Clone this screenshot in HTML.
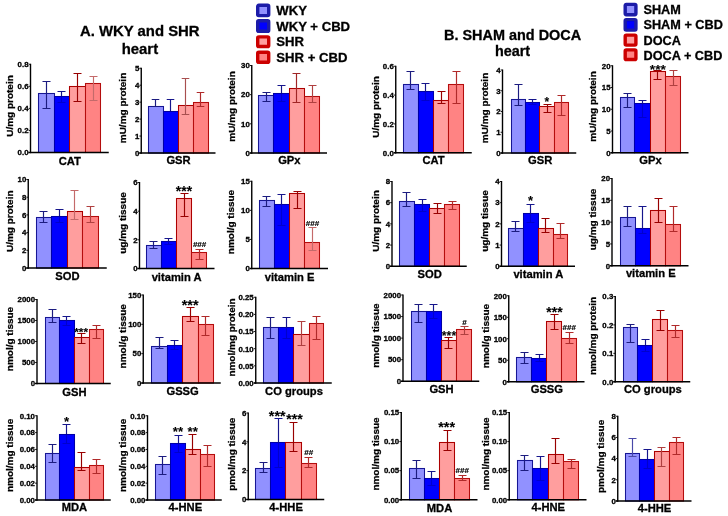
<!DOCTYPE html>
<html><head><meta charset="utf-8"><title>Figure</title>
<style>html,body{margin:0;padding:0;background:#fff}svg{display:block}text{font-family:"Liberation Sans",sans-serif;font-weight:bold;fill:#000;stroke:#000;stroke-width:0.3px}text.n{font-weight:bold;stroke-width:0.2px}text.a{font-weight:bold;stroke-width:0.1px;letter-spacing:0.1px}</style></head>
<body><svg width="728" height="516" viewBox="0 0 728 516">
<defs><filter id="s" x="0" y="0" width="728" height="516" filterUnits="userSpaceOnUse"><feGaussianBlur stdDeviation="0.32"/></filter></defs>
<rect width="728" height="516" fill="#fff"/>
<g filter="url(#s)">
<g><rect x="38.5" y="93.5" width="16" height="59" fill="#9191ff" stroke="#161694" stroke-width="1.05"/><rect x="54.5" y="96.5" width="15" height="56" fill="#0000ff" stroke="#0000a8" stroke-width="1.05"/><rect x="69.5" y="86.5" width="16" height="66" fill="#ff9e9e" stroke="#ac0606" stroke-width="1.05"/><rect x="85.5" y="83.5" width="15" height="69" fill="#ff8383" stroke="#b40808" stroke-width="1.05"/><path d="M46.5 81.5V108.5M42.5 81.5H50.5M42.5 108.5H50.5" stroke="#1c1c80" stroke-width="1.15" fill="none"/><path d="M61.5 91.5V96M57.5 91.5H65.5" stroke="#14148c" stroke-width="1.15" fill="none"/><path d="M61.5 96V102.5M57.5 102.5H65.5" stroke="#000090" stroke-width="1.15" fill="none" opacity="0.45"/><path d="M77.5 73.5V101.5M73.5 73.5H81.5M73.5 101.5H81.5" stroke="#980000" stroke-width="1.15" fill="none"/><path d="M93.5 76.5V100.5M89.5 76.5H97.5M89.5 100.5H97.5" stroke="#c46a6a" stroke-width="1.15" fill="none"/><path d="M30.5 63.75V153.2" stroke="#000" stroke-width="1.4" fill="none"/><path d="M28.5 152.5H108.75" stroke="#000" stroke-width="1.45" fill="none"/><text x="28.5" y="67.05" font-size="7.85" text-anchor="end" class="b">0.8</text><text x="28.5" y="89.11" font-size="7.85" text-anchor="end" class="b">0.6</text><text x="28.5" y="111.17" font-size="7.85" text-anchor="end" class="b">0.4</text><text x="28.5" y="133.24" font-size="7.85" text-anchor="end" class="b">0.2</text><text x="28.5" y="155.3" font-size="7.85" text-anchor="end" class="b">0.0</text><path d="M28.6 64.25H30.5M28.6 86.31H30.5M28.6 108.38H30.5M28.6 130.44H30.5M28.6 152.5H30.5" stroke="#000" stroke-width="0.9" fill="none"/><text x="69.75" y="164.5" font-size="11.2" text-anchor="middle" class="b">CAT</text><text transform="translate(13 106) rotate(-90) scale(1 0.92)" font-size="10" text-anchor="middle" class="b">U/mg protein</text></g>
<g><rect x="148.5" y="106.5" width="15" height="46.5" fill="#9191ff" stroke="#161694" stroke-width="1.05"/><rect x="163.5" y="111.5" width="15" height="41.5" fill="#0000ff" stroke="#0000a8" stroke-width="1.05"/><rect x="178.5" y="105.5" width="15" height="47.5" fill="#ff9e9e" stroke="#ac0606" stroke-width="1.05"/><rect x="193.5" y="102.5" width="15" height="50.5" fill="#ff8383" stroke="#b40808" stroke-width="1.05"/><path d="M155.5 99.5V106.5M151.7 99.5H159.3M151.7 106.5H159.3" stroke="#1c1c80" stroke-width="1.15" fill="none"/><path d="M170.5 99.5V111.25M166.7 99.5H174.3" stroke="#14148c" stroke-width="1.15" fill="none"/><path d="M170.5 111.25V111.5M166.7 111.5H174.3" stroke="#000090" stroke-width="1.15" fill="none" opacity="0.45"/><path d="M185.5 78.5V114.5M181.7 78.5H189.3M181.7 114.5H189.3" stroke="#a85050" stroke-width="1.15" fill="none"/><path d="M200.5 92.5V106.5M196.7 92.5H204.3M196.7 106.5H204.3" stroke="#b02a2a" stroke-width="1.15" fill="none"/><path d="M141.25 67.75V153.7" stroke="#000" stroke-width="1.4" fill="none"/><path d="M139.25 153H215.5" stroke="#000" stroke-width="1.45" fill="none"/><text x="139.25" y="71.05" font-size="7.85" text-anchor="end" class="b">5</text><text x="139.25" y="88" font-size="7.85" text-anchor="end" class="b">4</text><text x="139.25" y="104.95" font-size="7.85" text-anchor="end" class="b">3</text><text x="139.25" y="121.9" font-size="7.85" text-anchor="end" class="b">2</text><text x="139.25" y="138.85" font-size="7.85" text-anchor="end" class="b">1</text><text x="139.25" y="155.8" font-size="7.85" text-anchor="end" class="b">0</text><path d="M139.35 68.25H141.25M139.35 85.2H141.25M139.35 102.15H141.25M139.35 119.1H141.25M139.35 136.05H141.25M139.35 153H141.25" stroke="#000" stroke-width="0.9" fill="none"/><text x="178.5" y="164.25" font-size="11.2" text-anchor="middle" class="b">GSR</text><text transform="translate(125.5 108) rotate(-90) scale(1 0.92)" font-size="10" text-anchor="middle" class="b">mU/mg protein</text></g>
<g><rect x="258.5" y="95.5" width="15" height="57.5" fill="#9191ff" stroke="#161694" stroke-width="1.05"/><rect x="273.5" y="93.5" width="16" height="59.5" fill="#0000ff" stroke="#0000a8" stroke-width="1.05"/><rect x="289.5" y="88.5" width="15" height="64.5" fill="#ff9e9e" stroke="#ac0606" stroke-width="1.05"/><rect x="304.5" y="96.5" width="15" height="56.5" fill="#ff8383" stroke="#b40808" stroke-width="1.05"/><path d="M266.5 92.5V101.5M262.5 92.5H270.5M262.5 101.5H270.5" stroke="#1c1c80" stroke-width="1.15" fill="none"/><path d="M281.5 85.5V93.25M277.5 85.5H285.5" stroke="#14148c" stroke-width="1.15" fill="none"/><path d="M281.5 93.25V101.5M277.5 101.5H285.5" stroke="#000090" stroke-width="1.15" fill="none" opacity="0.45"/><path d="M296.5 73.5V102.5M292.5 73.5H300.5M292.5 102.5H300.5" stroke="#a02828" stroke-width="1.15" fill="none"/><path d="M312.5 85.5V102.5M308.5 85.5H316.5M308.5 102.5H316.5" stroke="#b04040" stroke-width="1.15" fill="none"/><path d="M251.75 65V153.7" stroke="#000" stroke-width="1.4" fill="none"/><path d="M249.75 153H327" stroke="#000" stroke-width="1.45" fill="none"/><text x="249.75" y="68.3" font-size="7.85" text-anchor="end" class="b">30</text><text x="249.75" y="97.47" font-size="7.85" text-anchor="end" class="b">20</text><text x="249.75" y="126.63" font-size="7.85" text-anchor="end" class="b">10</text><text x="249.75" y="155.8" font-size="7.85" text-anchor="end" class="b">0</text><path d="M249.85 65.5H251.75M249.85 94.67H251.75M249.85 123.83H251.75M249.85 153H251.75" stroke="#000" stroke-width="0.9" fill="none"/><text x="289.38" y="164.25" font-size="11.2" text-anchor="middle" class="b">GPx</text><text transform="translate(235 106.5) rotate(-90) scale(1 0.92)" font-size="10" text-anchor="middle" class="b">mU/mg protein</text></g>
<g><rect x="403.5" y="84.5" width="15" height="68.25" fill="#9191ff" stroke="#161694" stroke-width="1.05"/><rect x="418.5" y="91.5" width="15" height="61.25" fill="#0000ff" stroke="#0000a8" stroke-width="1.05"/><rect x="433.5" y="100.5" width="15" height="52.25" fill="#ff9e9e" stroke="#ac0606" stroke-width="1.05"/><rect x="448.5" y="84.5" width="15" height="68.25" fill="#ff8383" stroke="#b40808" stroke-width="1.05"/><path d="M410.5 71.5V89.5M406.5 71.5H414.5M406.5 89.5H414.5" stroke="#1c1c80" stroke-width="1.15" fill="none"/><path d="M425.5 83.5V91.75M421.5 83.5H429.5" stroke="#14148c" stroke-width="1.15" fill="none"/><path d="M425.5 91.75V100.5M421.5 100.5H429.5" stroke="#000090" stroke-width="1.15" fill="none" opacity="0.45"/><path d="M441.5 91.5V103.5M437.5 91.5H445.5M437.5 103.5H445.5" stroke="#980000" stroke-width="1.15" fill="none"/><path d="M456.5 71.5V103.5M452.5 71.5H460.5M452.5 103.5H460.5" stroke="#b02a2a" stroke-width="1.15" fill="none"/><path d="M395.75 65.75V153.45" stroke="#000" stroke-width="1.4" fill="none"/><path d="M393.75 152.75H471.75" stroke="#000" stroke-width="1.45" fill="none"/><text x="393.75" y="69.05" font-size="7.85" text-anchor="end" class="b">0.6</text><text x="393.75" y="97.88" font-size="7.85" text-anchor="end" class="b">0.4</text><text x="393.75" y="126.72" font-size="7.85" text-anchor="end" class="b">0.2</text><text x="393.75" y="155.55" font-size="7.85" text-anchor="end" class="b">0.0</text><path d="M393.85 66.25H395.75M393.85 95.08H395.75M393.85 123.92H395.75M393.85 152.75H395.75" stroke="#000" stroke-width="0.9" fill="none"/><text x="433.62" y="164" font-size="11.2" text-anchor="middle" class="b">CAT</text><text transform="translate(378.5 107) rotate(-90) scale(1 0.92)" font-size="10" text-anchor="middle" class="b">U/mg protein</text></g>
<g><rect x="511.5" y="99.5" width="14" height="53.5" fill="#9191ff" stroke="#161694" stroke-width="1.05"/><rect x="525.5" y="102.5" width="14" height="50.5" fill="#0000ff" stroke="#0000a8" stroke-width="1.05"/><rect x="539.5" y="106.5" width="15" height="46.5" fill="#ff9e9e" stroke="#ac0606" stroke-width="1.05"/><rect x="554.5" y="102.5" width="14" height="50.5" fill="#ff8383" stroke="#b40808" stroke-width="1.05"/><path d="M518.5 84.5V105.5M514.5 84.5H522.5M514.5 105.5H522.5" stroke="#1c1c80" stroke-width="1.15" fill="none"/><path d="M532.5 99.5V102.5M528.5 99.5H536.5" stroke="#14148c" stroke-width="1.15" fill="none"/><path d="M532.5 102.5V104.5M528.5 104.5H536.5" stroke="#000090" stroke-width="1.15" fill="none" opacity="0.45"/><path d="M547.5 104.5V112.5M543.5 104.5H551.5M543.5 112.5H551.5" stroke="#980000" stroke-width="1.15" fill="none"/><path d="M561.5 95.5V115.5M557.5 95.5H565.5M557.5 115.5H565.5" stroke="#b02a2a" stroke-width="1.15" fill="none"/><path d="M502.5 69.5V153.7" stroke="#000" stroke-width="1.4" fill="none"/><path d="M500.5 153H576.25" stroke="#000" stroke-width="1.45" fill="none"/><text x="500.5" y="72.8" font-size="7.85" text-anchor="end" class="b">4</text><text x="500.5" y="93.55" font-size="7.85" text-anchor="end" class="b">3</text><text x="500.5" y="114.3" font-size="7.85" text-anchor="end" class="b">2</text><text x="500.5" y="135.05" font-size="7.85" text-anchor="end" class="b">1</text><text x="500.5" y="155.8" font-size="7.85" text-anchor="end" class="b">0</text><path d="M500.6 70H502.5M500.6 90.75H502.5M500.6 111.5H502.5M500.6 132.25H502.5M500.6 153H502.5" stroke="#000" stroke-width="0.9" fill="none"/><text x="540.12" y="164.25" font-size="11.2" text-anchor="middle" class="b">GSR</text><text transform="translate(488 108) rotate(-90) scale(1 0.92)" font-size="10" text-anchor="middle" class="b">mU/mg protein</text><text x="546.9" y="105.73" font-size="12" text-anchor="middle" class="a">*</text></g>
<g><rect x="620.5" y="97.5" width="14" height="55.25" fill="#9191ff" stroke="#161694" stroke-width="1.05"/><rect x="634.5" y="103.5" width="16" height="49.25" fill="#0000ff" stroke="#0000a8" stroke-width="1.05"/><rect x="650.5" y="71.5" width="15" height="81.25" fill="#ff9e9e" stroke="#ac0606" stroke-width="1.05"/><rect x="665.5" y="76.5" width="15" height="76.25" fill="#ff8383" stroke="#b40808" stroke-width="1.05"/><path d="M627.5 93.5V107.5M623.5 93.5H631.5M623.5 107.5H631.5" stroke="#1c1c80" stroke-width="1.15" fill="none"/><path d="M642.5 100.5V103.75M638.5 100.5H646.5" stroke="#14148c" stroke-width="1.15" fill="none"/><path d="M642.5 103.75V117.5M638.5 117.5H646.5" stroke="#000090" stroke-width="1.15" fill="none" opacity="0.45"/><path d="M657.5 70.5V79.5M653.5 70.5H661.5M653.5 79.5H661.5" stroke="#980000" stroke-width="1.15" fill="none"/><path d="M673.5 70.5V85.5M669.5 70.5H677.5M669.5 85.5H677.5" stroke="#b04040" stroke-width="1.15" fill="none"/><path d="M612.5 65.25V153.45" stroke="#000" stroke-width="1.4" fill="none"/><path d="M610.5 152.75H688.5" stroke="#000" stroke-width="1.45" fill="none"/><text x="610.5" y="68.55" font-size="7.85" text-anchor="end" class="b">20</text><text x="610.5" y="90.3" font-size="7.85" text-anchor="end" class="b">15</text><text x="610.5" y="112.05" font-size="7.85" text-anchor="end" class="b">10</text><text x="610.5" y="133.8" font-size="7.85" text-anchor="end" class="b">5</text><text x="610.5" y="155.55" font-size="7.85" text-anchor="end" class="b">0</text><path d="M610.6 65.75H612.5M610.6 87.5H612.5M610.6 109.25H612.5M610.6 131H612.5M610.6 152.75H612.5" stroke="#000" stroke-width="0.9" fill="none"/><text x="650.5" y="163.75" font-size="11.2" text-anchor="middle" class="b">GPx</text><text transform="translate(596 106.5) rotate(-90) scale(1 0.92)" font-size="10" text-anchor="middle" class="b">mU/mg protein</text><text x="657.85" y="73.58" font-size="13.7" text-anchor="middle" class="a">***</text></g>
<g><rect x="36.5" y="217.5" width="15" height="50.5" fill="#9191ff" stroke="#161694" stroke-width="1.05"/><rect x="51.5" y="216.5" width="16" height="51.5" fill="#0000ff" stroke="#0000a8" stroke-width="1.05"/><rect x="67.5" y="211.5" width="15" height="56.5" fill="#ff9e9e" stroke="#ac0606" stroke-width="1.05"/><rect x="82.5" y="216.5" width="16" height="51.5" fill="#ff8383" stroke="#b40808" stroke-width="1.05"/><path d="M43.5 211.5V222.5M39.5 211.5H47.5M39.5 222.5H47.5" stroke="#1c1c80" stroke-width="1.15" fill="none"/><path d="M59.5 209.5V216M55.5 209.5H63.5" stroke="#14148c" stroke-width="1.15" fill="none"/><path d="M59.5 216V222.5M55.5 222.5H63.5" stroke="#000090" stroke-width="1.15" fill="none" opacity="0.45"/><path d="M74.5 190.5V219.5M70.5 190.5H78.5M70.5 219.5H78.5" stroke="#c46a6a" stroke-width="1.15" fill="none"/><path d="M90.5 206.5V222.5M86.5 206.5H94.5M86.5 222.5H94.5" stroke="#b04040" stroke-width="1.15" fill="none"/><path d="M28.25 179V268.7" stroke="#000" stroke-width="1.4" fill="none"/><path d="M26.25 268H106.75" stroke="#000" stroke-width="1.45" fill="none"/><text x="26.25" y="182.3" font-size="7.85" text-anchor="end" class="b">10</text><text x="26.25" y="200" font-size="7.85" text-anchor="end" class="b">8</text><text x="26.25" y="217.7" font-size="7.85" text-anchor="end" class="b">6</text><text x="26.25" y="235.4" font-size="7.85" text-anchor="end" class="b">4</text><text x="26.25" y="253.1" font-size="7.85" text-anchor="end" class="b">2</text><text x="26.25" y="270.8" font-size="7.85" text-anchor="end" class="b">0</text><path d="M26.35 179.5H28.25M26.35 197.2H28.25M26.35 214.9H28.25M26.35 232.6H28.25M26.35 250.3H28.25M26.35 268H28.25" stroke="#000" stroke-width="0.9" fill="none"/><text x="67.38" y="280.25" font-size="11.2" text-anchor="middle" class="b">SOD</text><text transform="translate(13 221.25) rotate(-90) scale(1 0.92)" font-size="10" text-anchor="middle" class="b">U/mg protein</text></g>
<g><rect x="146.5" y="245.5" width="15" height="23" fill="#9191ff" stroke="#161694" stroke-width="1.05"/><rect x="161.5" y="241.5" width="15" height="27" fill="#0000ff" stroke="#0000a8" stroke-width="1.05"/><rect x="176.5" y="198.5" width="15" height="70" fill="#ff9e9e" stroke="#ac0606" stroke-width="1.05"/><rect x="191.5" y="252.5" width="15" height="16" fill="#ff8383" stroke="#b40808" stroke-width="1.05"/><path d="M153.5 241.5V248.5M149.5 241.5H157.5M149.5 248.5H157.5" stroke="#1c1c80" stroke-width="1.15" fill="none"/><path d="M168.5 238.5V241.5M164.5 238.5H172.5" stroke="#14148c" stroke-width="1.15" fill="none"/><path d="M168.5 241.5V244.5M164.5 244.5H172.5" stroke="#000090" stroke-width="1.15" fill="none" opacity="0.45"/><path d="M184.5 193.5V216.5M180.5 193.5H188.5M180.5 216.5H188.5" stroke="#980000" stroke-width="1.15" fill="none"/><path d="M199.5 249.5V259.5M195.5 249.5H203.5M195.5 259.5H203.5" stroke="#b02a2a" stroke-width="1.15" fill="none"/><path d="M139.5 182V269.2" stroke="#000" stroke-width="1.4" fill="none"/><path d="M137.5 268.5H214.5" stroke="#000" stroke-width="1.45" fill="none"/><text x="137.5" y="185.3" font-size="7.85" text-anchor="end" class="b">6</text><text x="137.5" y="213.97" font-size="7.85" text-anchor="end" class="b">4</text><text x="137.5" y="242.63" font-size="7.85" text-anchor="end" class="b">2</text><text x="137.5" y="271.3" font-size="7.85" text-anchor="end" class="b">0</text><path d="M137.6 182.5H139.5M137.6 211.17H139.5M137.6 239.83H139.5M137.6 268.5H139.5" stroke="#000" stroke-width="0.9" fill="none"/><text x="176.62" y="280.5" font-size="11.2" text-anchor="middle" class="b">vitamin A</text><text transform="translate(125.5 223) rotate(-90) scale(1 0.92)" font-size="10" text-anchor="middle" class="b">ug/mg tissue</text><text x="184" y="196.08" font-size="13.8" text-anchor="middle" class="a">***</text><text x="199.6" y="247.44" font-size="8.0" text-anchor="middle" class="n">###</text></g>
<g><rect x="259.5" y="200.5" width="15" height="68" fill="#9191ff" stroke="#161694" stroke-width="1.05"/><rect x="274.5" y="204.5" width="15" height="64" fill="#0000ff" stroke="#0000a8" stroke-width="1.05"/><rect x="289.5" y="193.5" width="15" height="75" fill="#ff9e9e" stroke="#ac0606" stroke-width="1.05"/><rect x="304.5" y="242.5" width="15" height="26" fill="#ff8383" stroke="#b40808" stroke-width="1.05"/><path d="M266.5 196.5V206.5M262.5 196.5H270.5M262.5 206.5H270.5" stroke="#1c1c80" stroke-width="1.15" fill="none"/><path d="M281.5 194.5V204.5M277.5 194.5H285.5" stroke="#14148c" stroke-width="1.15" fill="none"/><path d="M281.5 204.5V225.5M277.5 225.5H285.5" stroke="#000090" stroke-width="1.15" fill="none" opacity="0.45"/><path d="M297.5 191.5V208.5M293.5 191.5H301.5M293.5 208.5H301.5" stroke="#980000" stroke-width="1.15" fill="none"/><path d="M312.5 227.5V250.5M308.5 227.5H316.5M308.5 250.5H316.5" stroke="#c46a6a" stroke-width="1.15" fill="none"/><path d="M251.75 180.75V269.2" stroke="#000" stroke-width="1.4" fill="none"/><path d="M249.75 268.5H328" stroke="#000" stroke-width="1.45" fill="none"/><text x="249.75" y="184.05" font-size="7.85" text-anchor="end" class="b">15</text><text x="249.75" y="213.13" font-size="7.85" text-anchor="end" class="b">10</text><text x="249.75" y="242.22" font-size="7.85" text-anchor="end" class="b">5</text><text x="249.75" y="271.3" font-size="7.85" text-anchor="end" class="b">0</text><path d="M249.85 181.25H251.75M249.85 210.33H251.75M249.85 239.42H251.75M249.85 268.5H251.75" stroke="#000" stroke-width="0.9" fill="none"/><text x="289.62" y="280.5" font-size="11.2" text-anchor="middle" class="b">vitamin E</text><text transform="translate(234 222) rotate(-90) scale(1 0.92)" font-size="10" text-anchor="middle" class="b">nmol/g tissue</text><text x="312.5" y="225.64" font-size="8.0" text-anchor="middle" class="n">###</text></g>
<g><rect x="399.5" y="201.5" width="15" height="64.75" fill="#9191ff" stroke="#161694" stroke-width="1.05"/><rect x="414.5" y="204.5" width="15" height="61.75" fill="#0000ff" stroke="#0000a8" stroke-width="1.05"/><rect x="429.5" y="208.5" width="15" height="57.75" fill="#ff9e9e" stroke="#ac0606" stroke-width="1.05"/><rect x="444.5" y="204.5" width="15" height="61.75" fill="#ff8383" stroke="#b40808" stroke-width="1.05"/><path d="M406.5 192.5V206.5M402.5 192.5H410.5M402.5 206.5H410.5" stroke="#1c1c80" stroke-width="1.15" fill="none"/><path d="M422.5 199.5V204.75M418.5 199.5H426.5" stroke="#14148c" stroke-width="1.15" fill="none"/><path d="M422.5 204.75V211.5M418.5 211.5H426.5" stroke="#000090" stroke-width="1.15" fill="none" opacity="0.45"/><path d="M437.5 203.5V213.5M433.5 203.5H441.5M433.5 213.5H441.5" stroke="#980000" stroke-width="1.15" fill="none"/><path d="M452.5 201.5V209.5M448.5 201.5H456.5M448.5 209.5H456.5" stroke="#b02a2a" stroke-width="1.15" fill="none"/><path d="M392 181V266.95" stroke="#000" stroke-width="1.4" fill="none"/><path d="M390 266.25H466.75" stroke="#000" stroke-width="1.45" fill="none"/><text x="390" y="184.3" font-size="7.85" text-anchor="end" class="b">8</text><text x="390" y="205.49" font-size="7.85" text-anchor="end" class="b">6</text><text x="390" y="226.68" font-size="7.85" text-anchor="end" class="b">4</text><text x="390" y="247.86" font-size="7.85" text-anchor="end" class="b">2</text><text x="390" y="269.05" font-size="7.85" text-anchor="end" class="b">0</text><path d="M390.1 181.5H392M390.1 202.69H392M390.1 223.88H392M390.1 245.06H392M390.1 266.25H392" stroke="#000" stroke-width="0.9" fill="none"/><text x="429.62" y="277.5" font-size="11.2" text-anchor="middle" class="b">SOD</text><text transform="translate(378.5 221) rotate(-90) scale(1 0.92)" font-size="10" text-anchor="middle" class="b">U/mg protein</text></g>
<g><rect x="508.5" y="228.5" width="15" height="37.75" fill="#9191ff" stroke="#161694" stroke-width="1.05"/><rect x="523.5" y="213.5" width="15" height="52.75" fill="#0000ff" stroke="#0000a8" stroke-width="1.05"/><rect x="538.5" y="228.5" width="15" height="37.75" fill="#ff9e9e" stroke="#ac0606" stroke-width="1.05"/><rect x="553.5" y="234.5" width="14" height="31.75" fill="#ff8383" stroke="#b40808" stroke-width="1.05"/><path d="M515.5 221.5V231.5M511.5 221.5H519.5M511.5 231.5H519.5" stroke="#1c1c80" stroke-width="1.15" fill="none"/><path d="M530.5 204.5V213.75M526.5 204.5H534.5" stroke="#14148c" stroke-width="1.15" fill="none"/><path d="M530.5 213.75V222.5M526.5 222.5H534.5" stroke="#000090" stroke-width="1.15" fill="none" opacity="0.45"/><path d="M545.5 218.5V232.5M541.5 218.5H549.5M541.5 232.5H549.5" stroke="#980000" stroke-width="1.15" fill="none"/><path d="M560.5 223.5V238.5M556.5 223.5H564.5M556.5 238.5H564.5" stroke="#b02a2a" stroke-width="1.15" fill="none"/><path d="M501.5 181V266.95" stroke="#000" stroke-width="1.4" fill="none"/><path d="M499.5 266.25H575" stroke="#000" stroke-width="1.45" fill="none"/><text x="499.5" y="184.3" font-size="7.85" text-anchor="end" class="b">4</text><text x="499.5" y="205.49" font-size="7.85" text-anchor="end" class="b">3</text><text x="499.5" y="226.68" font-size="7.85" text-anchor="end" class="b">2</text><text x="499.5" y="247.86" font-size="7.85" text-anchor="end" class="b">1</text><text x="499.5" y="269.05" font-size="7.85" text-anchor="end" class="b">0</text><path d="M499.6 181.5H501.5M499.6 202.69H501.5M499.6 223.88H501.5M499.6 245.06H501.5M499.6 266.25H501.5" stroke="#000" stroke-width="0.9" fill="none"/><text x="538.38" y="277.5" font-size="11.2" text-anchor="middle" class="b">vitamin A</text><text transform="translate(488 221) rotate(-90) scale(1 0.92)" font-size="10" text-anchor="middle" class="b">ug/mg tissue</text><text x="530.5" y="205.43" font-size="13" text-anchor="middle" class="a">*</text></g>
<g><rect x="620.5" y="217.5" width="15" height="48.25" fill="#9191ff" stroke="#161694" stroke-width="1.05"/><rect x="635.5" y="228.5" width="15" height="37.25" fill="#0000ff" stroke="#0000a8" stroke-width="1.05"/><rect x="650.5" y="210.5" width="15" height="55.25" fill="#ff9e9e" stroke="#ac0606" stroke-width="1.05"/><rect x="665.5" y="224.5" width="15" height="41.25" fill="#ff8383" stroke="#b40808" stroke-width="1.05"/><path d="M627.5 206.5V226.5M623.5 206.5H631.5M623.5 226.5H631.5" stroke="#1c1c80" stroke-width="1.15" fill="none"/><path d="M642.5 206.5V228.5M638.5 206.5H646.5" stroke="#14148c" stroke-width="1.15" fill="none"/><path d="M642.5 228.5V233.5M638.5 233.5H646.5" stroke="#000090" stroke-width="1.15" fill="none" opacity="0.45"/><path d="M658.5 198.5V222.5M654.5 198.5H662.5M654.5 222.5H662.5" stroke="#980000" stroke-width="1.15" fill="none"/><path d="M673.5 206.5V231.5M669.5 206.5H677.5M669.5 231.5H677.5" stroke="#b02a2a" stroke-width="1.15" fill="none"/><path d="M612 178V266.45" stroke="#000" stroke-width="1.4" fill="none"/><path d="M610 265.75H688.5" stroke="#000" stroke-width="1.45" fill="none"/><text x="610" y="181.3" font-size="7.85" text-anchor="end" class="b">20</text><text x="610" y="203.11" font-size="7.85" text-anchor="end" class="b">15</text><text x="610" y="224.93" font-size="7.85" text-anchor="end" class="b">10</text><text x="610" y="246.74" font-size="7.85" text-anchor="end" class="b">5</text><text x="610" y="268.55" font-size="7.85" text-anchor="end" class="b">0</text><path d="M610.1 178.5H612M610.1 200.31H612M610.1 222.12H612M610.1 243.94H612M610.1 265.75H612" stroke="#000" stroke-width="0.9" fill="none"/><text x="650.75" y="277" font-size="11.2" text-anchor="middle" class="b">vitamin E</text><text transform="translate(596 219.5) rotate(-90) scale(1 0.92)" font-size="10" text-anchor="middle" class="b">ug/mg tissue</text></g>
<g><rect x="45.5" y="317.5" width="14" height="66" fill="#9191ff" stroke="#161694" stroke-width="1.05"/><rect x="59.5" y="320.5" width="15" height="63" fill="#0000ff" stroke="#0000a8" stroke-width="1.05"/><rect x="74.5" y="337.5" width="15" height="46" fill="#ff9e9e" stroke="#ac0606" stroke-width="1.05"/><rect x="89.5" y="329.5" width="14" height="54" fill="#ff8383" stroke="#b40808" stroke-width="1.05"/><path d="M52.5 309.5V322.5M48.5 309.5H56.5M48.5 322.5H56.5" stroke="#1c1c80" stroke-width="1.15" fill="none"/><path d="M66.5 316.5V320.75M62.5 316.5H70.5" stroke="#14148c" stroke-width="1.15" fill="none"/><path d="M66.5 320.75V325.5M62.5 325.5H70.5" stroke="#000090" stroke-width="1.15" fill="none" opacity="0.45"/><path d="M81.5 333.5V343.5M77.5 333.5H85.5M77.5 343.5H85.5" stroke="#980000" stroke-width="1.15" fill="none"/><path d="M96.5 325.5V338.5M92.5 325.5H100.5M92.5 338.5H100.5" stroke="#b02a2a" stroke-width="1.15" fill="none"/><path d="M37 299V384.2" stroke="#000" stroke-width="1.4" fill="none"/><path d="M35 383.5H110.75" stroke="#000" stroke-width="1.45" fill="none"/><text x="35" y="302.3" font-size="7.85" text-anchor="end" class="b">2000</text><text x="35" y="323.3" font-size="7.85" text-anchor="end" class="b">1500</text><text x="35" y="344.3" font-size="7.85" text-anchor="end" class="b">1000</text><text x="35" y="365.3" font-size="7.85" text-anchor="end" class="b">500</text><text x="35" y="386.3" font-size="7.85" text-anchor="end" class="b">0</text><path d="M35.1 299.5H37M35.1 320.5H37M35.1 341.5H37M35.1 362.5H37M35.1 383.5H37" stroke="#000" stroke-width="0.9" fill="none"/><text x="74.38" y="395.5" font-size="11.2" text-anchor="middle" class="b">GSH</text><text transform="translate(13 339) rotate(-90) scale(1 0.92)" font-size="10" text-anchor="middle" class="b">nmol/g tissue</text><text x="81.2" y="335.53" font-size="11.8" text-anchor="middle" class="a">***</text></g>
<g><rect x="151.5" y="346.5" width="16" height="36.5" fill="#9191ff" stroke="#161694" stroke-width="1.05"/><rect x="167.5" y="345.5" width="15" height="37.5" fill="#0000ff" stroke="#0000a8" stroke-width="1.05"/><rect x="182.5" y="316.5" width="16" height="66.5" fill="#ff9e9e" stroke="#ac0606" stroke-width="1.05"/><rect x="198.5" y="324.5" width="15" height="58.5" fill="#ff8383" stroke="#b40808" stroke-width="1.05"/><path d="M159.5 337.5V348.5M155.5 337.5H163.5M155.5 348.5H163.5" stroke="#1c1c80" stroke-width="1.15" fill="none"/><path d="M174.5 340.5V345M170.5 340.5H178.5" stroke="#14148c" stroke-width="1.15" fill="none"/><path d="M174.5 345V349.5M170.5 349.5H178.5" stroke="#000090" stroke-width="1.15" fill="none" opacity="0.45"/><path d="M190.5 307.5V321.5M186.5 307.5H194.5M186.5 321.5H194.5" stroke="#980000" stroke-width="1.15" fill="none"/><path d="M205.5 316.5V335.5M201.5 316.5H209.5M201.5 335.5H209.5" stroke="#b02a2a" stroke-width="1.15" fill="none"/><path d="M143.25 294.5V383.7" stroke="#000" stroke-width="1.4" fill="none"/><path d="M141.25 383H220.75" stroke="#000" stroke-width="1.45" fill="none"/><text x="141.25" y="297.8" font-size="7.85" text-anchor="end" class="b">150</text><text x="141.25" y="327.13" font-size="7.85" text-anchor="end" class="b">100</text><text x="141.25" y="356.47" font-size="7.85" text-anchor="end" class="b">50</text><text x="141.25" y="385.8" font-size="7.85" text-anchor="end" class="b">0</text><path d="M141.35 295H143.25M141.35 324.33H143.25M141.35 353.67H143.25M141.35 383H143.25" stroke="#000" stroke-width="0.9" fill="none"/><text x="182.62" y="394.5" font-size="11.2" text-anchor="middle" class="b">GSSG</text><text transform="translate(125.5 336.25) rotate(-90) scale(1 0.92)" font-size="10" text-anchor="middle" class="b">nmol/g tissue</text><text x="190.2" y="310.49" font-size="14.3" text-anchor="middle" class="a">***</text></g>
<g><rect x="263.5" y="327.5" width="15" height="55.5" fill="#9191ff" stroke="#161694" stroke-width="1.05"/><rect x="278.5" y="327.5" width="15" height="55.5" fill="#0000ff" stroke="#0000a8" stroke-width="1.05"/><rect x="293.5" y="334.5" width="16" height="48.5" fill="#ff9e9e" stroke="#ac0606" stroke-width="1.05"/><rect x="309.5" y="323.5" width="14" height="59.5" fill="#ff8383" stroke="#b40808" stroke-width="1.05"/><path d="M270.5 317.5V338.5M266.5 317.5H274.5M266.5 338.5H274.5" stroke="#1c1c80" stroke-width="1.15" fill="none"/><path d="M286.5 317.5V327.75M282.5 317.5H290.5" stroke="#14148c" stroke-width="1.15" fill="none"/><path d="M286.5 327.75V338.5M282.5 338.5H290.5" stroke="#000090" stroke-width="1.15" fill="none" opacity="0.45"/><path d="M301.5 321.5V345.5M297.5 321.5H305.5M297.5 345.5H305.5" stroke="#b04040" stroke-width="1.15" fill="none"/><path d="M316.5 316.5V339.5M312.5 316.5H320.5M312.5 339.5H320.5" stroke="#b02a2a" stroke-width="1.15" fill="none"/><path d="M255.75 296.75V383.7" stroke="#000" stroke-width="1.4" fill="none"/><path d="M253.75 383H331.75" stroke="#000" stroke-width="1.45" fill="none"/><text x="253.75" y="300.05" font-size="7.85" text-anchor="end" class="b">0.25</text><text x="253.75" y="317.2" font-size="7.85" text-anchor="end" class="b">0.20</text><text x="253.75" y="334.35" font-size="7.85" text-anchor="end" class="b">0.15</text><text x="253.75" y="351.5" font-size="7.85" text-anchor="end" class="b">0.10</text><text x="253.75" y="368.65" font-size="7.85" text-anchor="end" class="b">0.05</text><text x="253.75" y="385.8" font-size="7.85" text-anchor="end" class="b">0.00</text><path d="M253.85 297.25H255.75M253.85 314.4H255.75M253.85 331.55H255.75M253.85 348.7H255.75M253.85 365.85H255.75M253.85 383H255.75" stroke="#000" stroke-width="0.9" fill="none"/><text x="294" y="394.5" font-size="11.2" text-anchor="middle" class="b">CO groups</text><text transform="translate(234.5 337.5) rotate(-90) scale(1 0.92)" font-size="10" text-anchor="middle" class="b">nmol/mg protein</text></g>
<g><rect x="411.5" y="311.5" width="15" height="69.75" fill="#9191ff" stroke="#161694" stroke-width="1.05"/><rect x="426.5" y="311.5" width="15" height="69.75" fill="#0000ff" stroke="#0000a8" stroke-width="1.05"/><rect x="441.5" y="340.5" width="15" height="40.75" fill="#ff9e9e" stroke="#ac0606" stroke-width="1.05"/><rect x="456.5" y="329.5" width="15" height="51.75" fill="#ff8383" stroke="#b40808" stroke-width="1.05"/><path d="M418.5 304.5V322.5M414.5 304.5H422.5M414.5 322.5H422.5" stroke="#1c1c80" stroke-width="1.15" fill="none"/><path d="M433.5 304.5V311.5M429.5 304.5H437.5" stroke="#14148c" stroke-width="1.15" fill="none"/><path d="M433.5 311.5V318.5M429.5 318.5H437.5" stroke="#000090" stroke-width="1.15" fill="none" opacity="0.45"/><path d="M448.5 337.5V348.5M444.5 337.5H452.5M444.5 348.5H452.5" stroke="#980000" stroke-width="1.15" fill="none"/><path d="M464.5 326.5V334.5M460.5 326.5H468.5M460.5 334.5H468.5" stroke="#b04040" stroke-width="1.15" fill="none"/><path d="M403 294.5V381.95" stroke="#000" stroke-width="1.4" fill="none"/><path d="M401 381.25H479.25" stroke="#000" stroke-width="1.45" fill="none"/><text x="401" y="297.8" font-size="7.85" text-anchor="end" class="b">2000</text><text x="401" y="319.36" font-size="7.85" text-anchor="end" class="b">1500</text><text x="401" y="340.93" font-size="7.85" text-anchor="end" class="b">1000</text><text x="401" y="362.49" font-size="7.85" text-anchor="end" class="b">500</text><text x="401" y="384.05" font-size="7.85" text-anchor="end" class="b">0</text><path d="M401.1 295H403M401.1 316.56H403M401.1 338.12H403M401.1 359.69H403M401.1 381.25H403" stroke="#000" stroke-width="0.9" fill="none"/><text x="441.5" y="393" font-size="11.2" text-anchor="middle" class="b">GSH</text><text transform="translate(379.25 335.6) rotate(-90) scale(1 0.92)" font-size="10" text-anchor="middle" class="b">nmol/g tissue</text><text x="449" y="340.13" font-size="12.2" text-anchor="middle" class="a">***</text><text x="464.4" y="324.84" font-size="8.0" text-anchor="middle" class="n">#</text></g>
<g><rect x="516.5" y="357.5" width="15" height="24.25" fill="#9191ff" stroke="#161694" stroke-width="1.05"/><rect x="531.5" y="358.5" width="15" height="23.25" fill="#0000ff" stroke="#0000a8" stroke-width="1.05"/><rect x="546.5" y="321.5" width="15" height="60.25" fill="#ff9e9e" stroke="#ac0606" stroke-width="1.05"/><rect x="561.5" y="338.5" width="15" height="43.25" fill="#ff8383" stroke="#b40808" stroke-width="1.05"/><path d="M524.5 352.5V363.5M520.5 352.5H528.5M520.5 363.5H528.5" stroke="#1c1c80" stroke-width="1.15" fill="none"/><path d="M539.5 354.5V358.25M535.5 354.5H543.5" stroke="#14148c" stroke-width="1.15" fill="none"/><path d="M539.5 358.25V361.5M535.5 361.5H543.5" stroke="#000090" stroke-width="1.15" fill="none" opacity="0.45"/><path d="M554.5 314.5V329.5M550.5 314.5H558.5M550.5 329.5H558.5" stroke="#980000" stroke-width="1.15" fill="none"/><path d="M569.5 332.5V343.5M565.5 332.5H573.5M565.5 343.5H573.5" stroke="#b02a2a" stroke-width="1.15" fill="none"/><path d="M508.75 295.25V382.45" stroke="#000" stroke-width="1.4" fill="none"/><path d="M506.75 381.75H584.5" stroke="#000" stroke-width="1.45" fill="none"/><text x="506.75" y="298.55" font-size="7.85" text-anchor="end" class="b">200</text><text x="506.75" y="320.05" font-size="7.85" text-anchor="end" class="b">150</text><text x="506.75" y="341.55" font-size="7.85" text-anchor="end" class="b">100</text><text x="506.75" y="363.05" font-size="7.85" text-anchor="end" class="b">50</text><text x="506.75" y="384.55" font-size="7.85" text-anchor="end" class="b">0</text><path d="M506.85 295.75H508.75M506.85 317.25H508.75M506.85 338.75H508.75M506.85 360.25H508.75M506.85 381.75H508.75" stroke="#000" stroke-width="0.9" fill="none"/><text x="546.88" y="393" font-size="11.2" text-anchor="middle" class="b">GSSG</text><text transform="translate(488.5 336) rotate(-90) scale(1 0.92)" font-size="10" text-anchor="middle" class="b">nmol/g tissue</text><text x="554.5" y="317.23" font-size="13.8" text-anchor="middle" class="a">***</text><text x="569.3" y="329.94" font-size="8.0" text-anchor="middle" class="n">###</text></g>
<g><rect x="623.5" y="327.5" width="14" height="54.25" fill="#9191ff" stroke="#161694" stroke-width="1.05"/><rect x="637.5" y="345.5" width="15" height="36.25" fill="#0000ff" stroke="#0000a8" stroke-width="1.05"/><rect x="652.5" y="319.5" width="15" height="62.25" fill="#ff9e9e" stroke="#ac0606" stroke-width="1.05"/><rect x="667.5" y="330.5" width="15" height="51.25" fill="#ff8383" stroke="#b40808" stroke-width="1.05"/><path d="M630.5 324.5V342.5M626.5 324.5H634.5M626.5 342.5H634.5" stroke="#1c1c80" stroke-width="1.15" fill="none"/><path d="M645.5 339.5V345M641.5 339.5H649.5" stroke="#14148c" stroke-width="1.15" fill="none"/><path d="M645.5 345V351.5M641.5 351.5H649.5" stroke="#000090" stroke-width="1.15" fill="none" opacity="0.45"/><path d="M660.5 310.5V330.5M656.5 310.5H664.5M656.5 330.5H664.5" stroke="#980000" stroke-width="1.15" fill="none"/><path d="M675.5 325.5V337.5M671.5 325.5H679.5M671.5 337.5H679.5" stroke="#b02a2a" stroke-width="1.15" fill="none"/><path d="M615.25 296V382.45" stroke="#000" stroke-width="1.4" fill="none"/><path d="M613.25 381.75H690.25" stroke="#000" stroke-width="1.45" fill="none"/><text x="613.25" y="299.3" font-size="7.85" text-anchor="end" class="b">0.3</text><text x="613.25" y="327.72" font-size="7.85" text-anchor="end" class="b">0.2</text><text x="613.25" y="356.13" font-size="7.85" text-anchor="end" class="b">0.1</text><text x="613.25" y="384.55" font-size="7.85" text-anchor="end" class="b">0.0</text><path d="M613.35 296.5H615.25M613.35 324.92H615.25M613.35 353.33H615.25M613.35 381.75H615.25" stroke="#000" stroke-width="0.9" fill="none"/><text x="652.88" y="393" font-size="11.2" text-anchor="middle" class="b">CO groups</text><text transform="translate(596 336) rotate(-90) scale(1 0.92)" font-size="10" text-anchor="middle" class="b">nmol/mg protein</text></g>
<g><rect x="45.5" y="453.5" width="14" height="46.5" fill="#9191ff" stroke="#161694" stroke-width="1.05"/><rect x="59.5" y="434.5" width="15" height="65.5" fill="#0000ff" stroke="#0000a8" stroke-width="1.05"/><rect x="74.5" y="467.5" width="15" height="32.5" fill="#ff9e9e" stroke="#ac0606" stroke-width="1.05"/><rect x="89.5" y="465.5" width="14" height="34.5" fill="#ff8383" stroke="#b40808" stroke-width="1.05"/><path d="M52.5 444.5V462.5M48.5 444.5H56.5M48.5 462.5H56.5" stroke="#1c1c80" stroke-width="1.15" fill="none"/><path d="M66.5 424.5V434M62.5 424.5H70.5" stroke="#14148c" stroke-width="1.15" fill="none"/><path d="M66.5 434V443.5M62.5 443.5H70.5" stroke="#000090" stroke-width="1.15" fill="none" opacity="0.45"/><path d="M81.5 452.5V470.5M77.5 452.5H85.5M77.5 470.5H85.5" stroke="#980000" stroke-width="1.15" fill="none"/><path d="M96.5 459.5V473.5M92.5 459.5H100.5M92.5 473.5H100.5" stroke="#b02a2a" stroke-width="1.15" fill="none"/><path d="M37 415.25V500.7" stroke="#000" stroke-width="1.4" fill="none"/><path d="M35 500H110.75" stroke="#000" stroke-width="1.45" fill="none"/><text x="35" y="418.55" font-size="7.85" text-anchor="end" class="b">0.10</text><text x="35" y="435.4" font-size="7.85" text-anchor="end" class="b">0.08</text><text x="35" y="452.25" font-size="7.85" text-anchor="end" class="b">0.06</text><text x="35" y="469.1" font-size="7.85" text-anchor="end" class="b">0.04</text><text x="35" y="485.95" font-size="7.85" text-anchor="end" class="b">0.02</text><text x="35" y="502.8" font-size="7.85" text-anchor="end" class="b">0.00</text><path d="M35.1 415.75H37M35.1 432.6H37M35.1 449.45H37M35.1 466.3H37M35.1 483.15H37M35.1 500H37" stroke="#000" stroke-width="0.9" fill="none"/><text x="74.38" y="511.25" font-size="11.2" text-anchor="middle" class="b">MDA</text><text transform="translate(13 455.4) rotate(-90) scale(1 0.92)" font-size="10" text-anchor="middle" class="b">nmol/mg tissue</text><text x="66.65" y="426.03" font-size="13.3" text-anchor="middle" class="a">*</text></g>
<g><rect x="155.5" y="464.5" width="15" height="35.5" fill="#9191ff" stroke="#161694" stroke-width="1.05"/><rect x="170.5" y="443.5" width="15" height="56.5" fill="#0000ff" stroke="#0000a8" stroke-width="1.05"/><rect x="185.5" y="449.5" width="15" height="50.5" fill="#ff9e9e" stroke="#ac0606" stroke-width="1.05"/><rect x="200.5" y="454.5" width="14" height="45.5" fill="#ff8383" stroke="#b40808" stroke-width="1.05"/><path d="M162.5 456.5V474.5M158.5 456.5H166.5M158.5 474.5H166.5" stroke="#1c1c80" stroke-width="1.15" fill="none"/><path d="M178.5 435.5V443.25M174.5 435.5H182.5" stroke="#14148c" stroke-width="1.15" fill="none"/><path d="M178.5 443.25V452.5M174.5 452.5H182.5" stroke="#000090" stroke-width="1.15" fill="none" opacity="0.45"/><path d="M192.5 434.5V454.5M188.5 434.5H196.5M188.5 454.5H196.5" stroke="#980000" stroke-width="1.15" fill="none"/><path d="M207.5 445.5V466.5M203.5 445.5H211.5M203.5 466.5H211.5" stroke="#b02a2a" stroke-width="1.15" fill="none"/><path d="M147.5 415.25V500.7" stroke="#000" stroke-width="1.4" fill="none"/><path d="M145.5 500H221.75" stroke="#000" stroke-width="1.45" fill="none"/><text x="145.5" y="418.55" font-size="7.85" text-anchor="end" class="b">0.10</text><text x="145.5" y="435.4" font-size="7.85" text-anchor="end" class="b">0.08</text><text x="145.5" y="452.25" font-size="7.85" text-anchor="end" class="b">0.06</text><text x="145.5" y="469.1" font-size="7.85" text-anchor="end" class="b">0.04</text><text x="145.5" y="485.95" font-size="7.85" text-anchor="end" class="b">0.02</text><text x="145.5" y="502.8" font-size="7.85" text-anchor="end" class="b">0.00</text><path d="M145.6 415.75H147.5M145.6 432.6H147.5M145.6 449.45H147.5M145.6 466.3H147.5M145.6 483.15H147.5M145.6 500H147.5" stroke="#000" stroke-width="0.9" fill="none"/><text x="185.38" y="511.25" font-size="11.2" text-anchor="middle" class="b">4-HNE</text><text transform="translate(125.5 455.4) rotate(-90) scale(1 0.92)" font-size="10" text-anchor="middle" class="b">nmol/mg tissue</text><text x="178.1" y="435.73" font-size="13.3" text-anchor="middle" class="a">**</text><text x="192.7" y="435.73" font-size="13.3" text-anchor="middle" class="a">**</text></g>
<g><rect x="255.5" y="468.5" width="15" height="31" fill="#9191ff" stroke="#161694" stroke-width="1.05"/><rect x="270.5" y="442.5" width="15" height="57" fill="#0000ff" stroke="#0000a8" stroke-width="1.05"/><rect x="285.5" y="442.5" width="16" height="57" fill="#ff9e9e" stroke="#ac0606" stroke-width="1.05"/><rect x="301.5" y="463.5" width="15" height="36" fill="#ff8383" stroke="#b40808" stroke-width="1.05"/><path d="M263.5 462.5V472.5M259.5 462.5H267.5M259.5 472.5H267.5" stroke="#1c1c80" stroke-width="1.15" fill="none"/><path d="M278.5 418.5V442.5M274.5 418.5H282.5" stroke="#14148c" stroke-width="1.15" fill="none"/><path d="M278.5 442.5V467.5M274.5 467.5H282.5" stroke="#000090" stroke-width="1.15" fill="none" opacity="0.45"/><path d="M293.5 422.5V451.5M289.5 422.5H297.5M289.5 451.5H297.5" stroke="#980000" stroke-width="1.15" fill="none"/><path d="M308.5 457.5V467.5M304.5 457.5H312.5M304.5 467.5H312.5" stroke="#b02a2a" stroke-width="1.15" fill="none"/><path d="M248.25 412.5V500.2" stroke="#000" stroke-width="1.4" fill="none"/><path d="M246.25 499.5H324.25" stroke="#000" stroke-width="1.45" fill="none"/><text x="246.25" y="415.8" font-size="7.85" text-anchor="end" class="b">6</text><text x="246.25" y="444.63" font-size="7.85" text-anchor="end" class="b">4</text><text x="246.25" y="473.47" font-size="7.85" text-anchor="end" class="b">2</text><text x="246.25" y="502.3" font-size="7.85" text-anchor="end" class="b">0</text><path d="M246.35 413H248.25M246.35 441.83H248.25M246.35 470.67H248.25M246.35 499.5H248.25" stroke="#000" stroke-width="0.9" fill="none"/><text x="286.12" y="511.25" font-size="11.2" text-anchor="middle" class="b">4-HHE</text><text transform="translate(234.5 454.25) rotate(-90) scale(1 0.92)" font-size="10" text-anchor="middle" class="b">pmol/mg tissue</text><text x="277.3" y="420.84" font-size="14.2" text-anchor="middle" class="a">***</text><text x="294.5" y="423.74" font-size="14.0" text-anchor="middle" class="a">***</text><text x="308.65" y="454.74" font-size="8.0" text-anchor="middle" class="n">##</text></g>
<g><rect x="409.5" y="468.5" width="15" height="31.25" fill="#9191ff" stroke="#161694" stroke-width="1.05"/><rect x="424.5" y="478.5" width="15" height="21.25" fill="#0000ff" stroke="#0000a8" stroke-width="1.05"/><rect x="439.5" y="442.5" width="15" height="57.25" fill="#ff9e9e" stroke="#ac0606" stroke-width="1.05"/><rect x="454.5" y="478.5" width="15" height="21.25" fill="#ff8383" stroke="#b40808" stroke-width="1.05"/><path d="M416.5 460.5V478.5M412.5 460.5H420.5M412.5 478.5H420.5" stroke="#1c1c80" stroke-width="1.15" fill="none"/><path d="M431.5 471.5V478.25M427.5 471.5H435.5" stroke="#14148c" stroke-width="1.15" fill="none"/><path d="M431.5 478.25V485.5M427.5 485.5H435.5" stroke="#000090" stroke-width="1.15" fill="none" opacity="0.45"/><path d="M447.5 430.5V450.5M443.5 430.5H451.5M443.5 450.5H451.5" stroke="#980000" stroke-width="1.15" fill="none"/><path d="M462.5 475.5V480.5M458.5 475.5H466.5M458.5 480.5H466.5" stroke="#b02a2a" stroke-width="1.15" fill="none"/><path d="M401.25 412V500.45" stroke="#000" stroke-width="1.4" fill="none"/><path d="M399.25 499.75H477.5" stroke="#000" stroke-width="1.45" fill="none"/><text x="399.25" y="415.3" font-size="7.85" text-anchor="end" class="b">0.15</text><text x="399.25" y="444.38" font-size="7.85" text-anchor="end" class="b">0.10</text><text x="399.25" y="473.47" font-size="7.85" text-anchor="end" class="b">0.05</text><text x="399.25" y="502.55" font-size="7.85" text-anchor="end" class="b">0.00</text><path d="M399.35 412.5H401.25M399.35 441.58H401.25M399.35 470.67H401.25M399.35 499.75H401.25" stroke="#000" stroke-width="0.9" fill="none"/><text x="439.5" y="511.5" font-size="11.2" text-anchor="middle" class="b">MDA</text><text transform="translate(379.25 454) rotate(-90) scale(1 0.92)" font-size="10" text-anchor="middle" class="b">nmol/mg tissue</text><text x="446.65" y="432.29" font-size="14.3" text-anchor="middle" class="a">***</text><text x="462.2" y="473.19" font-size="8.0" text-anchor="middle" class="n">###</text></g>
<g><rect x="517.5" y="460.5" width="15" height="39.25" fill="#9191ff" stroke="#161694" stroke-width="1.05"/><rect x="532.5" y="468.5" width="16" height="31.25" fill="#0000ff" stroke="#0000a8" stroke-width="1.05"/><rect x="548.5" y="454.5" width="15" height="45.25" fill="#ff9e9e" stroke="#ac0606" stroke-width="1.05"/><rect x="563.5" y="461.5" width="15" height="38.25" fill="#ff8383" stroke="#b40808" stroke-width="1.05"/><path d="M524.5 455.5V470.5M520.5 455.5H528.5M520.5 470.5H528.5" stroke="#1c1c80" stroke-width="1.15" fill="none"/><path d="M540.5 456.5V468.25M536.5 456.5H544.5" stroke="#14148c" stroke-width="1.15" fill="none"/><path d="M540.5 468.25V480.5M536.5 480.5H544.5" stroke="#000090" stroke-width="1.15" fill="none" opacity="0.45"/><path d="M555.5 438.5V463.5M551.5 438.5H559.5M551.5 463.5H559.5" stroke="#980000" stroke-width="1.15" fill="none"/><path d="M571.5 459.5V468.5M567.5 459.5H575.5M567.5 468.5H575.5" stroke="#b02a2a" stroke-width="1.15" fill="none"/><path d="M509.25 412V500.45" stroke="#000" stroke-width="1.4" fill="none"/><path d="M507.25 499.75H586.5" stroke="#000" stroke-width="1.45" fill="none"/><text x="507.25" y="415.3" font-size="7.85" text-anchor="end" class="b">0.15</text><text x="507.25" y="444.38" font-size="7.85" text-anchor="end" class="b">0.10</text><text x="507.25" y="473.47" font-size="7.85" text-anchor="end" class="b">0.05</text><text x="507.25" y="502.55" font-size="7.85" text-anchor="end" class="b">0.00</text><path d="M507.35 412.5H509.25M507.35 441.58H509.25M507.35 470.67H509.25M507.35 499.75H509.25" stroke="#000" stroke-width="0.9" fill="none"/><text x="548.25" y="511.25" font-size="11.2" text-anchor="middle" class="b">4-HNE</text><text transform="translate(488.5 454) rotate(-90) scale(1 0.92)" font-size="10" text-anchor="middle" class="b">nmol/mg tissue</text></g>
<g><rect x="625.5" y="453.5" width="14" height="47.5" fill="#9191ff" stroke="#161694" stroke-width="1.05"/><rect x="639.5" y="459.5" width="15" height="41.5" fill="#0000ff" stroke="#0000a8" stroke-width="1.05"/><rect x="654.5" y="451.5" width="15" height="49.5" fill="#ff9e9e" stroke="#ac0606" stroke-width="1.05"/><rect x="669.5" y="442.5" width="14" height="58.5" fill="#ff8383" stroke="#b40808" stroke-width="1.05"/><path d="M632.5 438.5V456.5M628.5 438.5H636.5M628.5 456.5H636.5" stroke="#4a4aa8" stroke-width="1.15" fill="none"/><path d="M647.5 449.5V459M643.5 449.5H651.5" stroke="#14148c" stroke-width="1.15" fill="none"/><path d="M647.5 459V468.5M643.5 468.5H651.5" stroke="#000090" stroke-width="1.15" fill="none" opacity="0.45"/><path d="M661.5 447.5V466.5M657.5 447.5H665.5M657.5 466.5H665.5" stroke="#b04040" stroke-width="1.15" fill="none"/><path d="M676.5 437.5V454.5M672.5 437.5H680.5M672.5 454.5H680.5" stroke="#b02a2a" stroke-width="1.15" fill="none"/><path d="M617.75 415.75V501.7" stroke="#000" stroke-width="1.4" fill="none"/><path d="M615.75 501H691.5" stroke="#000" stroke-width="1.45" fill="none"/><text x="615.75" y="419.05" font-size="7.85" text-anchor="end" class="b">8</text><text x="615.75" y="440.24" font-size="7.85" text-anchor="end" class="b">6</text><text x="615.75" y="461.43" font-size="7.85" text-anchor="end" class="b">4</text><text x="615.75" y="482.61" font-size="7.85" text-anchor="end" class="b">2</text><text x="615.75" y="503.8" font-size="7.85" text-anchor="end" class="b">0</text><path d="M615.85 416.25H617.75M615.85 437.44H617.75M615.85 458.62H617.75M615.85 479.81H617.75M615.85 501H617.75" stroke="#000" stroke-width="0.9" fill="none"/><text x="654.5" y="512" font-size="11.2" text-anchor="middle" class="b">4-HHE</text><text transform="translate(604 456.4) rotate(-90) scale(1 0.92)" font-size="10" text-anchor="middle" class="b">pmol/mg tissue</text></g>
<text x="139.75" y="35.75" font-size="14.9" text-anchor="middle" class="b">A. WKY and SHR</text>
<text x="139.9" y="53.75" font-size="14.9" text-anchor="middle" class="b">heart</text>
<text x="512.6" y="39.75" font-size="14.45" text-anchor="middle" class="b">B. SHAM and DOCA</text>
<text x="512.5" y="55.5" font-size="14.4" text-anchor="middle" class="b">heart</text>
<rect x="257.7" y="5.3" width="11" height="10.3" rx="1.1" fill="#9191ff" stroke="#1a1aa8" stroke-width="3.4"/>
<text x="276.25" y="15.2" font-size="13.15" class="b">WKY</text>
<rect x="257.7" y="20.8" width="11" height="10.5" rx="1.1" fill="#0000ff" stroke="#1a1aa8" stroke-width="3.4"/>
<text x="276.25" y="30.9" font-size="13.15" class="b">WKY + CBD</text>
<rect x="257.7" y="36.9" width="11" height="9.6" rx="1.1" fill="#ff9e9e" stroke="#cc0000" stroke-width="3.4"/>
<text x="276.25" y="46.4" font-size="13.15" class="b">SHR</text>
<rect x="257.7" y="52.2" width="11" height="10.1" rx="1.1" fill="#ff8383" stroke="#cc0000" stroke-width="3.4"/>
<text x="276.25" y="61.8" font-size="13.15" class="b">SHR + CBD</text>
<rect x="625.2" y="4.4" width="10.7" height="10.3" rx="1.1" fill="#9191ff" stroke="#1a1aa8" stroke-width="3.4"/>
<text x="643.5" y="13.9" font-size="12.7" class="b">SHAM</text>
<rect x="625.2" y="19.6" width="10.7" height="10.5" rx="1.1" fill="#0000ff" stroke="#1a1aa8" stroke-width="3.4"/>
<text x="643.5" y="29.1" font-size="12.7" class="b">SHAM + CBD</text>
<rect x="625.2" y="35.1" width="10.7" height="10" rx="1.1" fill="#ff9e9e" stroke="#cc0000" stroke-width="3.4"/>
<text x="643.5" y="44.6" font-size="12.7" class="b">DOCA</text>
<rect x="625.2" y="49.9" width="10.7" height="9.65" rx="1.1" fill="#ff8383" stroke="#cc0000" stroke-width="3.4"/>
<text x="643.5" y="59.5" font-size="12.7" class="b">DOCA + CBD</text>
</g>
</svg></body></html>
